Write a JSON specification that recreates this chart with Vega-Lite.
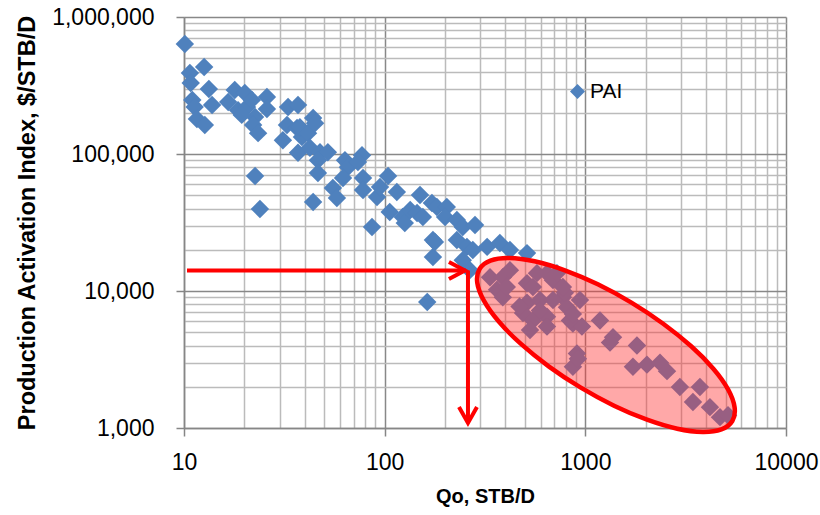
{
  "$schema": "https://vega.github.io/schema/vega-lite/v6.json",
  "width": 602,
  "height": 411,
  "autosize": "none",
  "padding": {"left": 184, "top": 17, "right": 34, "bottom": 87},
  "background": "white",
  "config": {"view": {"stroke": null}, "font": "Liberation Sans"},
  "datasets": {
    "pai": [
      {"q": 10.1, "pai": 635000, "series": "PAI"}, {"q": 10.7, "pai": 390000, "series": "PAI"}, {"q": 12.6, "pai": 431000, "series": "PAI"},
      {"q": 10.8, "pai": 330000, "series": "PAI"}, {"q": 13.3, "pai": 298000, "series": "PAI"}, {"q": 11.0, "pai": 248000, "series": "PAI"},
      {"q": 11.3, "pai": 220000, "series": "PAI"}, {"q": 13.8, "pai": 228000, "series": "PAI"}, {"q": 11.6, "pai": 180000, "series": "PAI"},
      {"q": 12.7, "pai": 163000, "series": "PAI"}, {"q": 17.9, "pai": 293000, "series": "PAI"}, {"q": 16.6, "pai": 240000, "series": "PAI"},
      {"q": 18.6, "pai": 209000, "series": "PAI"}, {"q": 20.1, "pai": 279000, "series": "PAI"}, {"q": 20.6, "pai": 220000, "series": "PAI"},
      {"q": 21.8, "pai": 248000, "series": "PAI"}, {"q": 22.6, "pai": 186000, "series": "PAI"}, {"q": 22.1, "pai": 163000, "series": "PAI"},
      {"q": 23.4, "pai": 142000, "series": "PAI"}, {"q": 25.9, "pai": 261000, "series": "PAI"}, {"q": 25.9, "pai": 213000, "series": "PAI"},
      {"q": 19.4, "pai": 193000, "series": "PAI"}, {"q": 22.6, "pai": 69000, "series": "PAI"}, {"q": 23.9, "pai": 39700, "series": "PAI"},
      {"q": 33.0, "pai": 220000, "series": "PAI"}, {"q": 37.0, "pai": 228000, "series": "PAI"}, {"q": 32.6, "pai": 163000, "series": "PAI"},
      {"q": 36.6, "pai": 155000, "series": "PAI"}, {"q": 31.1, "pai": 126000, "series": "PAI"}, {"q": 37.0, "pai": 102000, "series": "PAI"},
      {"q": 38.7, "pai": 133000, "series": "PAI"}, {"q": 44.0, "pai": 183000, "series": "PAI"}, {"q": 37.8, "pai": 157000, "series": "PAI"},
      {"q": 41.5, "pai": 142000, "series": "PAI"}, {"q": 45.0, "pai": 168000, "series": "PAI"}, {"q": 42.4, "pai": 111000, "series": "PAI"},
      {"q": 47.6, "pai": 103000, "series": "PAI"}, {"q": 52.1, "pai": 103000, "series": "PAI"}, {"q": 46.5, "pai": 90000, "series": "PAI"},
      {"q": 46.5, "pai": 72600, "series": "PAI"}, {"q": 44.0, "pai": 44700, "series": "PAI"}, {"q": 55.2, "pai": 56500, "series": "PAI"},
      {"q": 57.8, "pai": 47700, "series": "PAI"}, {"q": 63.4, "pai": 90000, "series": "PAI"}, {"q": 65.6, "pai": 80000, "series": "PAI"},
      {"q": 77.1, "pai": 98000, "series": "PAI"}, {"q": 73.6, "pai": 87500, "series": "PAI"}, {"q": 62.0, "pai": 66800, "series": "PAI"},
      {"q": 78.0, "pai": 66800, "series": "PAI"}, {"q": 78.0, "pai": 54600, "series": "PAI"}, {"q": 86.5, "pai": 29300, "series": "PAI"},
      {"q": 91.6, "pai": 48500, "series": "PAI"}, {"q": 94.8, "pai": 57400, "series": "PAI"}, {"q": 104, "pai": 69000, "series": "PAI"},
      {"q": 115, "pai": 52800, "series": "PAI"}, {"q": 106, "pai": 37700, "series": "PAI"}, {"q": 123, "pai": 34700, "series": "PAI"},
      {"q": 134, "pai": 39000, "series": "PAI"}, {"q": 126, "pai": 31300, "series": "PAI"}, {"q": 150, "pai": 50200, "series": "PAI"},
      {"q": 145, "pai": 37100, "series": "PAI"}, {"q": 155, "pai": 34700, "series": "PAI"}, {"q": 172, "pai": 43900, "series": "PAI"},
      {"q": 174, "pai": 23600, "series": "PAI"}, {"q": 174, "pai": 17700, "series": "PAI"}, {"q": 163, "pai": 8300, "series": "PAI"},
      {"q": 182, "pai": 41000, "series": "PAI"}, {"q": 204, "pai": 41000, "series": "PAI"}, {"q": 200, "pai": 34700, "series": "PAI"},
      {"q": 229, "pai": 33000, "series": "PAI"}, {"q": 245, "pai": 29300, "series": "PAI"}, {"q": 282, "pai": 30300, "series": "PAI"},
      {"q": 178, "pai": 22800, "series": "PAI"}, {"q": 229, "pai": 23600, "series": "PAI"}, {"q": 257, "pai": 21000, "series": "PAI"},
      {"q": 275, "pai": 19900, "series": "PAI"}, {"q": 324, "pai": 21000, "series": "PAI"}, {"q": 375, "pai": 22400, "series": "PAI"},
      {"q": 421, "pai": 19900, "series": "PAI"}, {"q": 512, "pai": 18900, "series": "PAI"}, {"q": 245, "pai": 16800, "series": "PAI"},
      {"q": 266, "pai": 14200, "series": "PAI"},
      {"q": 335, "pai": 12600, "series": "PAI"}, {"q": 388, "pai": 12600, "series": "PAI"}, {"q": 421, "pai": 14200, "series": "PAI"},
      {"q": 512, "pai": 11400, "series": "PAI"}, {"q": 548, "pai": 10700, "series": "PAI"}, {"q": 574, "pai": 13500, "series": "PAI"},
      {"q": 644, "pai": 13500, "series": "PAI"}, {"q": 690, "pai": 12000, "series": "PAI"}, {"q": 363, "pai": 10200, "series": "PAI"},
      {"q": 388, "pai": 9000, "series": "PAI"}, {"q": 512, "pai": 8200, "series": "PAI"}, {"q": 594, "pai": 8600, "series": "PAI"},
      {"q": 489, "pai": 6900, "series": "PAI"}, {"q": 548, "pai": 6100, "series": "PAI"}, {"q": 644, "pai": 6500, "series": "PAI"},
      {"q": 644, "pai": 5500, "series": "PAI"}, {"q": 530, "pai": 5200, "series": "PAI"}, {"q": 773, "pai": 9000, "series": "PAI"},
      {"q": 810, "pai": 7600, "series": "PAI"}, {"q": 940, "pai": 8600, "series": "PAI"}, {"q": 867, "pai": 5800, "series": "PAI"},
      {"q": 962, "pai": 5500, "series": "PAI"}, {"q": 908, "pai": 3500, "series": "PAI"}, {"q": 867, "pai": 2800, "series": "PAI"},
      {"q": 1183, "pai": 6100, "series": "PAI"}, {"q": 1374, "pai": 4600, "series": "PAI"}, {"q": 1327, "pai": 4200, "series": "PAI"},
      {"q": 1808, "pai": 4000, "series": "PAI"}, {"q": 1727, "pai": 2800, "series": "PAI"}, {"q": 2028, "pai": 2900, "series": "PAI"},
      {"q": 2355, "pai": 3000, "series": "PAI"}, {"q": 2553, "pai": 2600, "series": "PAI"}, {"q": 2960, "pai": 1990, "series": "PAI"},
      {"q": 3724, "pai": 1990, "series": "PAI"}, {"q": 3438, "pai": 1550, "series": "PAI"}, {"q": 4178, "pai": 1420, "series": "PAI"},
      {"q": 4688, "pai": 1200, "series": "PAI"}, {"q": 5140, "pai": 1240, "series": "PAI"}, {"q": 791, "pai": 9700, "series": "PAI"},
      {"q": 838, "pai": 6100, "series": "PAI"}, {"q": 918, "pai": 3200, "series": "PAI"}, {"q": 406, "pai": 10700, "series": "PAI"},
      {"q": 722, "pai": 13500, "series": "PAI"}, {"q": 773, "pai": 10700, "series": "PAI"}, {"q": 690, "pai": 8600, "series": "PAI"},
      {"q": 594, "pai": 7200, "series": "PAI"}, {"q": 470, "pai": 7700, "series": "PAI"}, {"q": 867, "pai": 6800, "series": "PAI"}
    ],
    "ellipse": [
      {"i": 0, "q": 5402, "pai": 1125}, {"i": 1, "q": 4766, "pai": 977}, {"i": 2, "q": 3841, "pai": 935},
      {"i": 3, "q": 2873, "pai": 988}, {"i": 4, "q": 2030, "pai": 1150}, {"i": 5, "q": 1390, "pai": 1455},
      {"i": 6, "q": 945, "pai": 1979}, {"i": 7, "q": 656.5, "pai": 2820}, {"i": 8, "q": 476, "pai": 4124},
      {"i": 9, "q": 369.4, "pai": 6009}, {"i": 10, "q": 311.7, "pai": 8538}, {"i": 11, "q": 289.3, "pai": 11516},
      {"i": 12, "q": 297, "pai": 14474}, {"i": 13, "q": 336.6, "pai": 16671}, {"i": 14, "q": 417.7, "pai": 17416},
      {"i": 15, "q": 558.4, "pai": 16476}, {"i": 16, "q": 790.6, "pai": 14161}, {"i": 17, "q": 1154, "pai": 11192},
      {"i": 18, "q": 1697, "pai": 8228}, {"i": 19, "q": 2444, "pai": 5771}, {"i": 20, "q": 3370, "pai": 3948},
      {"i": 21, "q": 4344, "pai": 2709}, {"i": 22, "q": 5152, "pai": 1907}, {"i": 23, "q": 5545, "pai": 1414}
    ],
    "arrows": [
      {"seg": "h", "i": 0, "q": 10.35, "pai": 14112}, {"seg": "h", "i": 1, "q": 254, "pai": 14112},
      {"seg": "hh", "i": 0, "q": 209.1, "pai": 16280}, {"seg": "hh", "i": 1, "q": 251.2, "pai": 14112}, {"seg": "hh", "i": 2, "q": 209.1, "pai": 12236},
      {"seg": "v", "i": 0, "q": 260.1, "pai": 14112}, {"seg": "v", "i": 1, "q": 260.1, "pai": 1088},
      {"seg": "vh", "i": 0, "q": 234.6, "pai": 1423}, {"seg": "vh", "i": 1, "q": 260.1, "pai": 1088}, {"seg": "vh", "i": 2, "q": 288.4, "pai": 1423}
    ]
  },
  "layer": [
    {
      "data": {"name": "pai"},
      "mark": {"type": "point", "shape": "diamond", "filled": true, "size": 340, "opacity": 1, "strokeWidth": 0},
      "encoding": {
        "x": {
          "field": "q", "type": "quantitative",
          "scale": {"type": "log", "domain": [10, 10000], "nice": false},
          "axis": {
            "values": [10, 20, 30, 40, 50, 60, 70, 80, 90, 100, 200, 300, 400, 500, 600, 700, 800, 900, 1000, 2000, 3000, 4000, 5000, 6000, 7000, 8000, 9000, 10000],
            "format": "d",
            "labelExpr": "(datum.value == 10 || datum.value == 100 || datum.value == 1000 || datum.value == 10000) ? datum.label : ''",
            "labelFont": "Liberation Sans", "labelFontSize": 23, "labelColor": "#000000",
            "labelPadding": 15, "labelOverlap": false, "labelFlush": false,
            "tickSize": 8, "tickColor": "#868686", "tickWidth": 1.5,
            "tickOpacity": {"condition": {"test": "datum.value == 10 || datum.value == 100 || datum.value == 1000 || datum.value == 10000", "value": 1}, "value": 0},
            "grid": true,
            "gridColor": {"condition": {"test": "datum.value == 10 || datum.value == 100 || datum.value == 1000 || datum.value == 10000", "value": "#888888"}, "value": "#BBBBBB"},
            "gridWidth": 1.5,
            "domainColor": "#868686", "domainWidth": 1.5,
            "title": "Qo, STB/D", "titleFont": "Liberation Sans", "titleFontSize": 20, "titleFontWeight": "bold", "titleColor": "#000000", "titlePadding": 12
          }
        },
        "y": {
          "field": "pai", "type": "quantitative",
          "scale": {"type": "log", "domain": [1000, 1000000], "nice": false},
          "axis": {
            "values": [1000, 2000, 3000, 4000, 5000, 6000, 7000, 8000, 9000, 10000, 20000, 30000, 40000, 50000, 60000, 70000, 80000, 90000, 100000, 200000, 300000, 400000, 500000, 600000, 700000, 800000, 900000, 1000000],
            "format": ",d",
            "labelExpr": "(datum.value == 1000 || datum.value == 10000 || datum.value == 100000 || datum.value == 1000000) ? datum.label : ''",
            "labelFont": "Liberation Sans", "labelFontSize": 23, "labelColor": "#000000",
            "labelPadding": 22, "labelOverlap": false, "labelFlush": false,
            "tickSize": 8, "tickColor": "#868686", "tickWidth": 1.5,
            "tickOpacity": {"condition": {"test": "datum.value == 1000 || datum.value == 10000 || datum.value == 100000 || datum.value == 1000000", "value": 1}, "value": 0},
            "grid": true,
            "gridColor": {"condition": {"test": "datum.value == 1000 || datum.value == 10000 || datum.value == 100000 || datum.value == 1000000", "value": "#888888"}, "value": "#BBBBBB"},
            "gridWidth": 1.5,
            "domainColor": "#868686", "domainWidth": 1.5,
            "title": "Production Activation Index, $/STB/D", "titleFont": "Liberation Sans", "titleFontSize": 23.5, "titleFontWeight": "bold", "titleColor": "#000000", "titlePadding": 12
          }
        },
        "color": {
          "field": "series", "type": "nominal",
          "scale": {"range": ["#4F81BD"]},
          "legend": {
            "title": null, "orient": "none", "legendX": 383, "legendY": 64, "padding": 0,
            "symbolType": "diamond", "symbolSize": 225, "symbolStrokeWidth": 0,
            "labelFont": "Liberation Sans", "labelFontSize": 21, "labelColor": "#000000", "labelOffset": 2
          }
        }
      }
    },
    {
      "data": {"name": "ellipse"},
      "mark": {"type": "line", "interpolate": "cardinal-closed", "stroke": "#FF0000", "strokeWidth": 4.5, "fill": "#FF3030", "fillOpacity": 0.42},
      "encoding": {
        "x": {"field": "q", "type": "quantitative", "scale": {"type": "log", "domain": [10, 10000], "nice": false}},
        "y": {"field": "pai", "type": "quantitative", "scale": {"type": "log", "domain": [1000, 1000000], "nice": false}},
        "order": {"field": "i", "type": "quantitative"}
      }
    },
    {
      "data": {"name": "arrows"},
      "mark": {"type": "line", "stroke": "#FF0000", "strokeWidth": 4},
      "encoding": {
        "x": {"field": "q", "type": "quantitative", "scale": {"type": "log", "domain": [10, 10000], "nice": false}},
        "y": {"field": "pai", "type": "quantitative", "scale": {"type": "log", "domain": [1000, 1000000], "nice": false}},
        "detail": {"field": "seg", "type": "nominal"},
        "order": {"field": "i", "type": "quantitative"}
      }
    }
  ]
}
